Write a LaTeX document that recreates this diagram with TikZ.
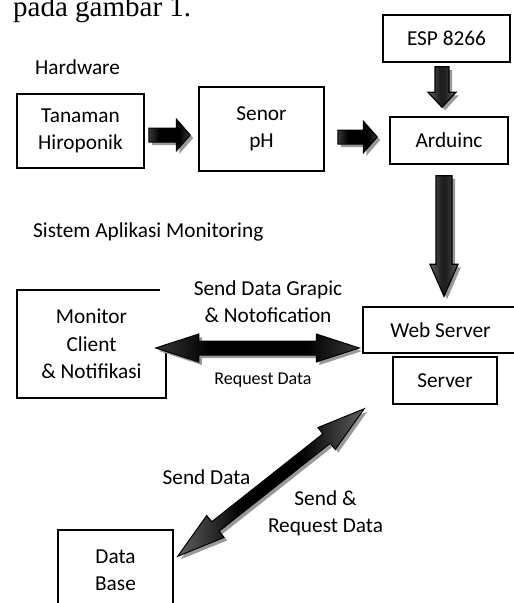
\documentclass[tikz,border=0pt]{standalone}
\usepackage{fontspec}
\setmainfont{Carlito}
\newfontfamily\timesfont{Liberation Serif}
\usetikzlibrary{calc,positioning}

% shadings run along the arrow (the scope rotation turns them with it)
\pgfdeclarehorizontalshading{darkshade}{100bp}{color(0bp)=(black!78); color(25bp)=(black!78);
  color(38bp)=(black); color(62bp)=(black); color(75bp)=(black!78); color(100bp)=(black!78)}
\pgfdeclarehorizontalshading{greyshade}{100bp}{color(0bp)=(black!62); color(25bp)=(black!62);
  color(46bp)=(black!88); color(54bp)=(black!88); color(75bp)=(black!62); color(100bp)=(black!62)}
\pgfdeclarehorizontalshading{diagshade}{100bp}{color(0bp)=(black!62); color(25bp)=(black!62);
  color(42bp)=(black); color(58bp)=(black); color(75bp)=(black!62); color(100bp)=(black!62)}

\tikzset{
  box/.style={draw, line width=1.5pt, fill=white, align=center, inner sep=0pt},
  txt/.style={align=center, inner sep=0pt},
  darkarrow/.style={draw=black, line width=1pt, shade, shading=darkshade},
  greyarrow/.style={draw=black, line width=1.2pt, shade, shading=greyshade},
  diagarrow/.style={draw=black, line width=1pt, shade, shading=diagshade},
  arrowshadow/.style={fill=black!40}
}

% angle and length between two points
\newcommand\arrowgeom[2]{%
  \path let \p1=#1, \p2=#2 in \pgfextra{%
    \pgfmathsetmacro\tmpa{atan2(\y2-\y1,\x2-\x1)}\xdef\arrang{\tmpa}%
    \pgfmathsetmacro\tmpb{veclen(\x2-\x1,\y2-\y1)}\xdef\arrlen{\tmpb}};}

% #1 style, #2 from, #3 to, #4/#5 gaps, #6 half shaft, #7 half head, #8 head length
\newcommand\singleblock[8]{%
  \arrowgeom{#2}{#3}%
  \def\arrpath{(#4,-#6) -- ({\arrlen-#5-#8},-#6) -- ({\arrlen-#5-#8},-#7)
    -- ({\arrlen-#5},0) -- ({\arrlen-#5-#8},#7) -- ({\arrlen-#5-#8},#6) -- (#4,#6) -- cycle}%
  \begin{scope}[shift={($#2+(3,3)$)}, rotate=\arrang]
    \fill[arrowshadow] \arrpath;
  \end{scope}
  \begin{scope}[shift={#2}, rotate=\arrang]
    \path[#1] \arrpath;
  \end{scope}}

\newcommand\doubleblock[8]{%
  \arrowgeom{#2}{#3}%
  \def\arrpath{(#4,0) -- ({#4+#8},-#7) -- ({#4+#8},-#6) -- ({\arrlen-#5-#8},-#6)
    -- ({\arrlen-#5-#8},-#7) -- ({\arrlen-#5},0) -- ({\arrlen-#5-#8},#7)
    -- ({\arrlen-#5-#8},#6) -- ({#4+#8},#6) -- ({#4+#8},#7) -- cycle}%
  \begin{scope}[shift={($#2+(3,3)$)}, rotate=\arrang]
    \fill[arrowshadow] \arrpath;
  \end{scope}
  \begin{scope}[shift={#2}, rotate=\arrang]
    \path[#1] \arrpath;
  \end{scope}}

\begin{document}
\begin{tikzpicture}[x=1pt, y=-1pt, font=\fontsize{21.3}{27.5}\selectfont]
\useasboundingbox (0,0) rectangle (514,603);

\node[anchor=base west, inner sep=0pt, font=\timesfont\fontsize{29}{30}\selectfont] (pada) at (13,16) {pada gambar 1.};

% hardware
\node[txt, anchor=west] (hw) at (35,67) {Hardware};
\node[box, minimum width=127, minimum height=47] (esp) at (446.5,38.5) {ESP 8266};
\node[box, minimum width=127, minimum height=74] (tanaman) at (80.5,131) {Tanaman\\Hiroponik};
\node[box, minimum width=125, minimum height=84] (senor) at (261.5,129) {Senor\\pH};
\node[box, minimum width=118, minimum height=47] (arduinc) at (449,140.5) {Arduinc};

% aplikasi
\node[txt, anchor=west] (sam) at (33,232) {Sistem Aplikasi Monitoring};
\node[box, minimum width=149, minimum height=108] (monitor) at (91.5,344) {Monitor\\Client\\\& Notifikasi};
\node[txt, fill=white, minimum width=216, minimum height=84] (grapic) at (268,301.5) {Send Data Grapic\\\& Notofication};
\node[box, minimum width=155, minimum height=46] (web) at (440.5,330) {Web Server};
\node[box, minimum width=104, minimum height=47] (server) at (445,380.5) {Server};
\node[txt, font=\fontsize{18}{22}\selectfont] (req) at (263,380) {Request Data};
\node[box, minimum width=115, minimum height=80] (dbase) at (115.5,570) {Data\\Base};
\node[txt] (sd) at (206.5,477) {Send Data};
\node[txt] (srd) at (325.5,513.5) {Send \&\\Request Data};

% arrow ends
\coordinate (a1s) at ($(tanaman.east)+(0,4)$);
\coordinate (a1e) at (a1s -| senor.west);
\coordinate (a2s) at ($(senor.east)+(0,8)$);
\coordinate (a2e) at (a2s -| arduinc.west);
\coordinate (a3s) at ($(esp.south)+(-4.5,0)$);
\coordinate (a3e) at (a3s |- arduinc.north);
\coordinate (a4s) at ($(arduinc.south)+(-5,0)$);
\coordinate (a4e) at (a4s |- web.north);
\coordinate (mcl) at ($(monitor.east)+(-11,4)$);
\coordinate (wsl) at (mcl -| web.west);
\coordinate (dbin) at ($(dbase.north east)+(4,27)$);
\coordinate (srvin) at ($(server.south west)+(-28,4)$);

\singleblock{darkarrow}{(a1s)}{(a1e)}{4}{8}{7}{16}{14}
\singleblock{darkarrow}{(a2s)}{(a2e)}{13}{12}{7}{16}{14}
\singleblock{greyarrow}{(a3s)}{(a3e)}{4}{9}{7}{14}{15}
\singleblock{greyarrow}{(a4s)}{(a4e)}{11}{10}{8}{14}{32}
\doubleblock{darkarrow}{(mcl)}{(wsl)}{0}{3}{7}{14}{43}
\doubleblock{diagarrow}{(dbin)}{(srvin)}{0}{0}{6}{14}{48}
\end{tikzpicture}
\end{document}
